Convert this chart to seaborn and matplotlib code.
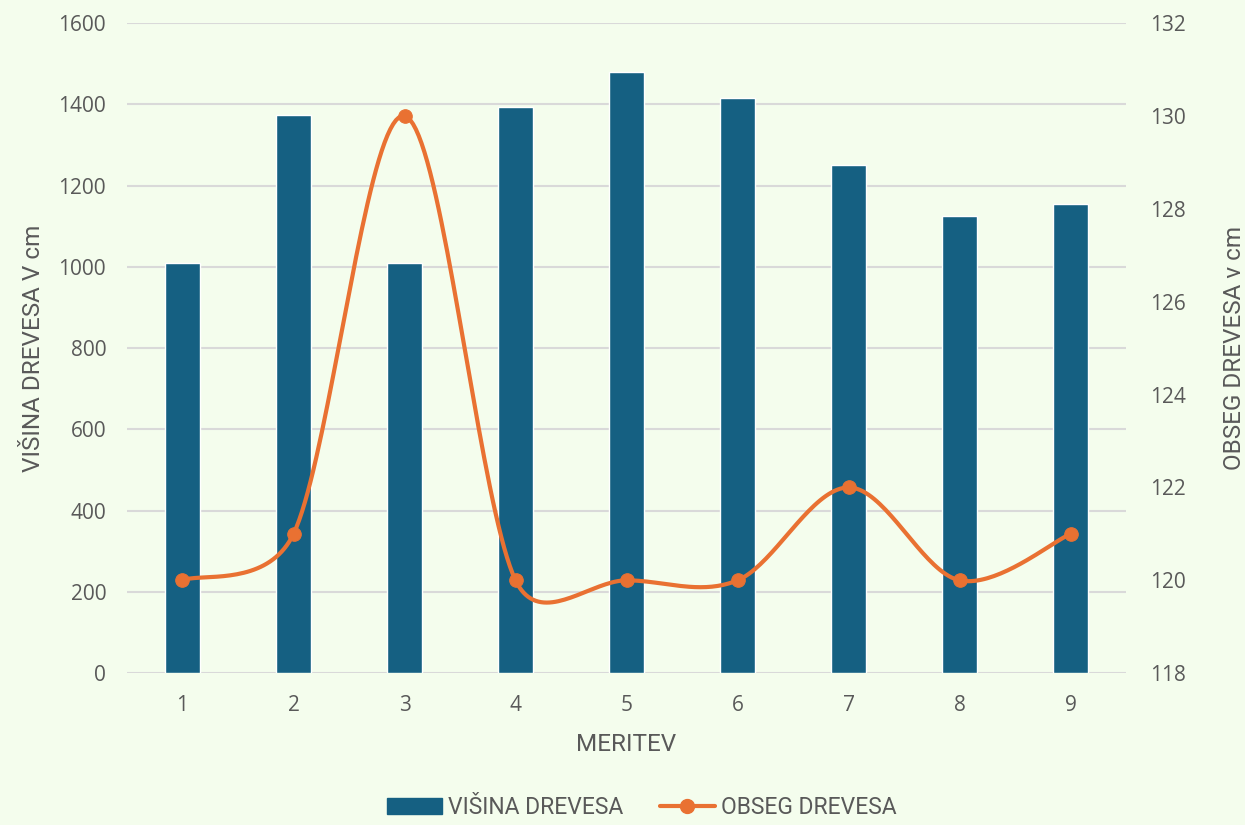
import numpy as np
import seaborn as sns
import matplotlib.pyplot as plt
from matplotlib.patches import Patch
from matplotlib.lines import Line2D

meritev = ['1', '2', '3', '4', '5', '6', '7', '8', '9']
visina = [1010, 1373, 1010, 1393, 1480, 1415, 1250, 1125, 1155]
obseg = [120, 121, 130, 120, 120, 120, 122, 120, 121]

bg = '#F4FDED'
bar_col = '#156082'
line_col = '#E97132'
txt = '#595959'

sns.set_style('white')
plt.rcParams['font.family'] = ['Open Sans', 'DejaVu Sans']
label_font = ['Roboto', 'DejaVu Sans']


def smooth_line(ax, xs, ys, n=40):
    # spreadsheet-like smoothed line: bezier in screen space,
    # control arm = 1/6 of neighbour chord, clamped to half the segment
    pts = ax.transData.transform(np.column_stack([xs, ys]).astype(float))
    m = len(pts)
    prev = np.vstack([pts[:1], pts[:-1]])
    nxt = np.vstack([pts[1:], pts[-1:]])
    tang = (nxt - prev) / 6
    t = np.linspace(0, 1, n)[:, None]
    out = []
    for i in range(m - 1):
        p0, p3 = pts[i], pts[i + 1]
        seg = np.linalg.norm(p3 - p0)
        a = tang[i]
        b = tang[i + 1]
        if np.linalg.norm(a) > seg / 2:
            a = a * (seg / 2) / np.linalg.norm(a)
        if np.linalg.norm(b) > seg / 2:
            b = b * (seg / 2) / np.linalg.norm(b)
        p1, p2 = p0 + a, p3 - b
        out.append((1 - t) ** 3 * p0 + 3 * (1 - t) ** 2 * t * p1
                   + 3 * (1 - t) * t ** 2 * p2 + t ** 3 * p3)
    curve = ax.transData.inverted().transform(np.vstack(out))
    return curve[:, 0], curve[:, 1]


fig = plt.figure(figsize=(12.45, 8.25), dpi=100, facecolor=bg)
ax = fig.add_axes([0.102, 0.184, 0.8025, 0.788])
ax.set_facecolor(bg)

sns.barplot(x=meritev, y=visina, color=bar_col, width=0.31, saturation=1, ax=ax, zorder=2)
ax.set_ylim(0, 1600)
ax.set_yticks(range(0, 1601, 200))
ax.set_xlim(-0.5, 8.5)
ax.grid(axis='y', color='#D9D9D9', linewidth=1.5, zorder=0)
ax.set_axisbelow(True)
for s in ax.spines.values():
    s.set_visible(False)
ax.tick_params(length=0, labelsize=15, colors=txt)
ax.tick_params(axis='y', pad=15)
ax.tick_params(axis='x', pad=16)
ax.set_xlabel('MERITEV', fontsize=17.5, color=txt, family=label_font, labelpad=12)
ax.set_ylabel('VIŠINA DREVESA V cm', fontsize=17.5, color=txt, family=label_font, labelpad=10)

ax2 = ax.twinx()
ax2.set_ylim(118, 132)
ax2.set_yticks(range(118, 133, 2))
ax2.set_xlim(-0.5, 8.5)
xpos = np.arange(len(obseg))
sx, sy = smooth_line(ax2, xpos, obseg)
ax2.plot(sx, sy, color=line_col, linewidth=3, solid_capstyle='round', zorder=3)
sns.scatterplot(x=xpos, y=obseg, color=line_col, s=95, edgecolor=line_col, ax=ax2, zorder=4)
ax2.set_ylim(118, 132)
ax2.set_xlim(-0.5, 8.5)
for s in ax2.spines.values():
    s.set_visible(False)
ax2.tick_params(length=0, labelsize=15, colors=txt, pad=17)
ax2.set_ylabel('OBSEG DREVESA v cm', fontsize=17.5, color=txt, family=label_font, labelpad=27)

handles = [Patch(facecolor=bar_col, edgecolor=bar_col),
           Line2D([0], [0], color=line_col, linewidth=3, marker='o', markersize=10)]
leg = fig.legend(handles, ['VIŠINA DREVESA', 'OBSEG DREVESA'], loc='lower center',
                 bbox_to_anchor=(0.5155, -0.018), ncol=2, frameon=False, handlelength=2.4,
                 columnspacing=1.6, handletextpad=0.25,
                 prop={'family': label_font, 'size': 16.5})
for t in leg.get_texts():
    t.set_color(txt)

fig.savefig('out.png', dpi=100, facecolor=bg)
